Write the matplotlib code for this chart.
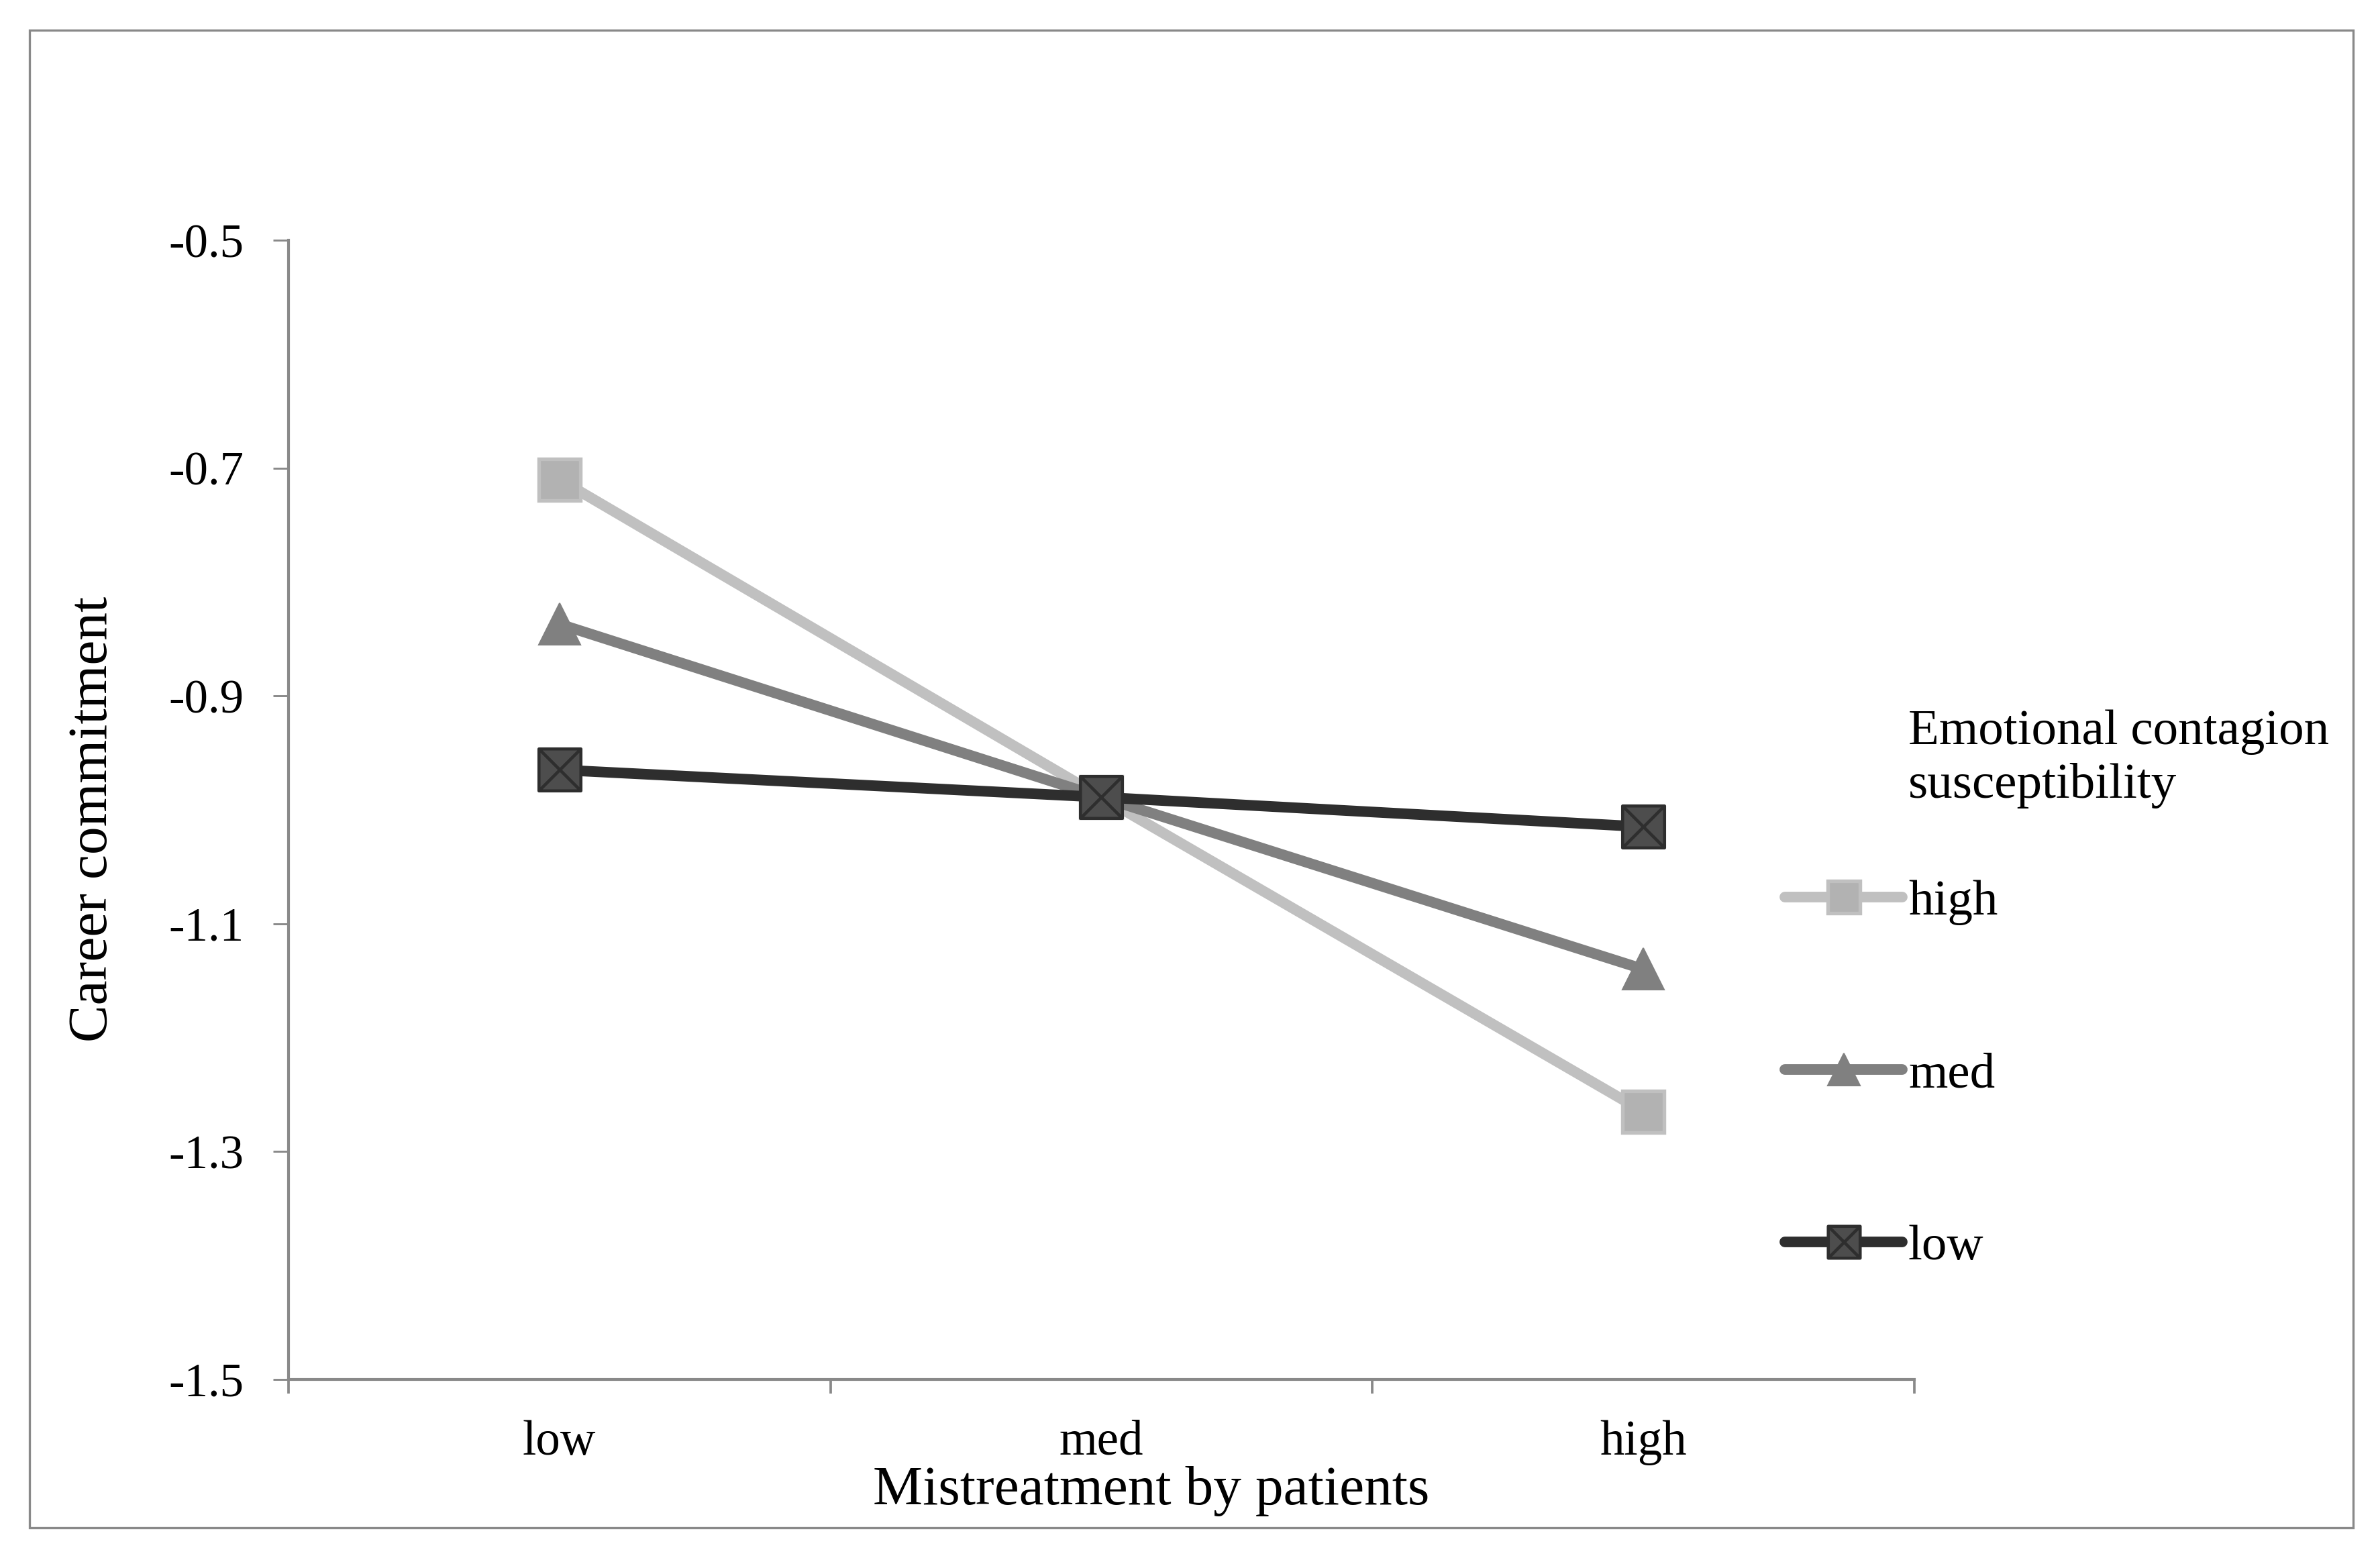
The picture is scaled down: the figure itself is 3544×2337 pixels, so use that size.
import numpy as np
import matplotlib.pyplot as plt
from matplotlib.path import Path
from matplotlib.patches import Rectangle

plt.rcParams['font.family'] = ['Liberation Serif', 'DejaVu Serif']

# datos
mistreatment = ['low', 'med', 'high']
series_names = ['high', 'med', 'low']
high_vals = [-0.710, -0.989, -1.265]
med_vals = [-0.837, -0.989, -1.140]
low_vals = [-0.965, -0.989, -1.015]
ytick_vals = [-1.5, -1.3, -1.1, -0.9, -0.7, -0.5]
ytick_labels = ['-1.5', '-1.3', '-1.1', '-0.9', '-0.7', '-0.5']

AXIS_GRAY = '#898989'

# marcador cuadrado con una X dentro
box_x = Path([(-1, -1), (1, -1), (1, 1), (-1, 1), (-1, -1),
              (-1, -1), (1, 1), (-1, 1), (1, -1)],
             [Path.MOVETO, Path.LINETO, Path.LINETO, Path.LINETO, Path.CLOSEPOLY,
              Path.MOVETO, Path.LINETO, Path.MOVETO, Path.LINETO])

fig = plt.figure(figsize=(3544 / 300, 2337 / 300), dpi=300)
ax = fig.add_axes([0.1213, 0.1204, 0.805 - 0.1213, 0.8468 - 0.1204])

x = np.arange(len(mistreatment)) + 0.5
lw = 3.8
ax.plot(x, high_vals, color='#C0C0C0', lw=lw, solid_capstyle='round',
        marker='s', ms=15, mfc='#B2B2B2', mec='#C0C0C0', mew=1.3, label=series_names[0])
ax.plot(x, med_vals, color='#808080', lw=lw, solid_capstyle='round',
        marker='^', ms=15, mfc='#808080', mec='#808080', mew=0.5, label=series_names[1])
ax.plot(x, low_vals, color='#2E2E2E', lw=lw, solid_capstyle='round',
        marker=box_x, ms=15, mfc='#4D4D4D', mec='#2E2E2E', mew=1.1, label=series_names[2])

ax.set_xlim(0, 3)
ax.set_ylim(-1.5, -0.5)

# ejes
for s in ['top', 'right']:
    ax.spines[s].set_visible(False)
for s in ['left', 'bottom']:
    ax.spines[s].set_color(AXIS_GRAY)
    ax.spines[s].set_linewidth(1.0)

ax.set_yticks(ytick_vals)
ax.set_yticklabels(ytick_labels)
ax.tick_params(axis='y', direction='out', length=5.5, width=0.7, color=AXIS_GRAY,
               pad=10.5, labelsize=17)

ax.set_xticks([0, 1, 2, 3])
ax.set_xticklabels([])
ax.set_xticks(x, minor=True)
ax.set_xticklabels(mistreatment, minor=True)
ax.tick_params(axis='x', which='major', direction='out', length=5, width=0.9, color=AXIS_GRAY)
ax.tick_params(axis='x', which='minor', length=0, pad=14.5, labelsize=17.5)

# titulos de ejes
fig.text(0.4842, 0.0407, 'Mistreatment by patients', fontsize=20, ha='center', va='baseline')
fig.text(0.0392, 0.4775, 'Career commitment', fontsize=20, rotation=90, ha='center', va='center')

# leyenda
leg = ax.legend(loc='center left', bbox_to_anchor=(0.7506, 0.3146),
                bbox_transform=fig.transFigure, frameon=False, fontsize=18,
                borderpad=0, borderaxespad=0, handlelength=2.33, handletextpad=0.12,
                labelspacing=2.51, markerscale=0.76)
fig.text(0.8025, 0.5161, 'Emotional contagion\nsusceptibility', fontsize=18,
         ha='left', va='center', linespacing=1.23)

# marco exterior
fig.patches.append(Rectangle((0.0124, 0.0257), 0.9896 - 0.0124, 0.9807 - 0.0257,
                             transform=fig.transFigure, fill=False,
                             edgecolor=AXIS_GRAY, lw=0.8))

plt.savefig('out.png', dpi=300)
